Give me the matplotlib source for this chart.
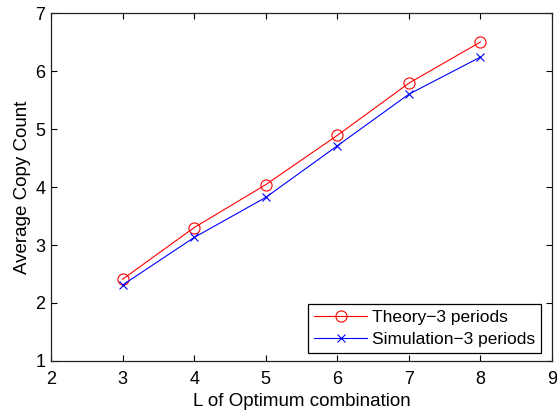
import matplotlib
matplotlib.use("Agg")
import matplotlib.pyplot as plt

L_values = [3, 4, 5, 6, 7, 8]
theory = [2.41, 3.30, 4.04, 4.89, 5.79, 6.50]
simulation = [2.31, 3.13, 3.82, 4.71, 5.60, 6.24]
x_ticks = [2, 3, 4, 5, 6, 7, 8, 9]
y_ticks = [1, 2, 3, 4, 5, 6, 7]

plt.rcParams['font.family'] = ['Liberation Sans', 'DejaVu Sans']
fig = plt.figure(figsize=(5.57, 4.12), dpi=100)
ax = fig.add_axes([0.0916, 0.1238, 0.8994, 0.8446])

ax.plot(L_values, theory, color='#ff0000', lw=0.8, marker='o', ms=8,
        mfc='none', mec='#ff0000', mew=0.8, label='Theory\u22123 periods')
ax.plot(L_values, simulation, color='#0000ff', lw=0.8, marker='x', ms=6,
        mec='#0000ff', mew=0.8, label='Simulation\u22123 periods')

ax.set_xlim(2, 9)
ax.set_ylim(1, 7)
ax.set_xticks(x_ticks)
ax.set_yticks(y_ticks)
ax.tick_params(direction='in', top=True, right=True, length=4, width=0.8,
               labelsize=13)
ax.tick_params(axis='x', pad=7)
ax.tick_params(axis='y', pad=4)
for s in ax.spines.values():
    s.set_linewidth(0.9)
    s.set_color('#222222')

ax.set_xlabel('L of Optimum combination', fontsize=13.5, labelpad=4)
ax.set_ylabel('Average Copy Count', fontsize=13.5, labelpad=3)

leg = ax.legend(loc='lower right', bbox_to_anchor=(0.978, 0.023), fontsize=12.5,
                fancybox=False, edgecolor='black', framealpha=1,
                borderpad=0.35, labelspacing=0.4, handlelength=3.0,
                handletextpad=0.3, borderaxespad=0)
leg.get_frame().set_linewidth(0.9)

fig.savefig('out.png', dpi=100)
